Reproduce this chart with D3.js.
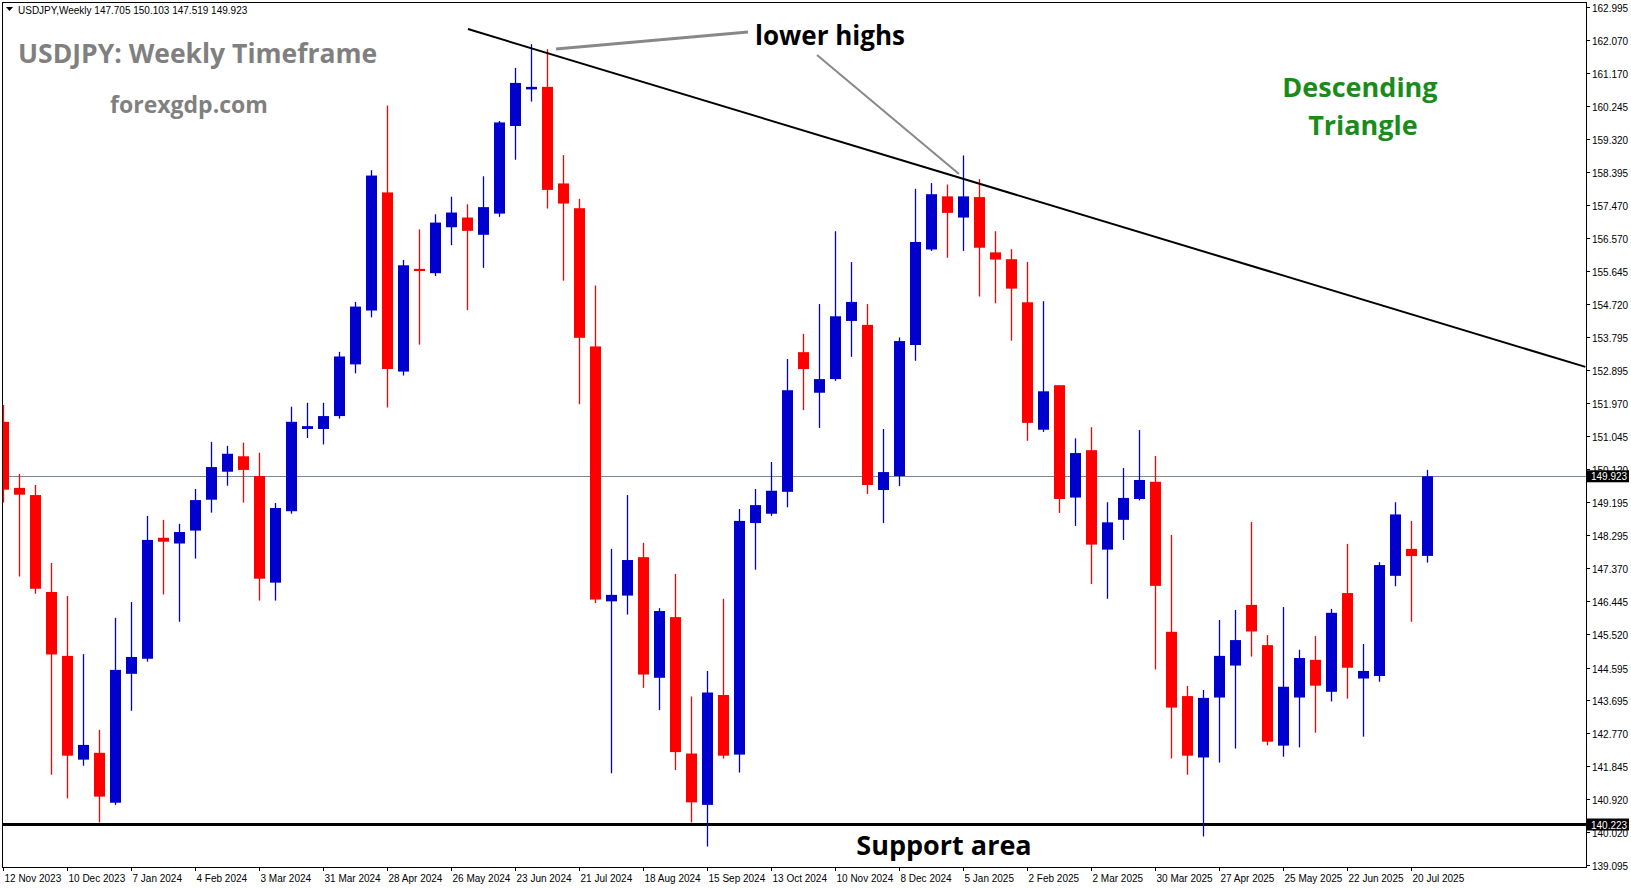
<!DOCTYPE html>
<html lang="en">
<head>
<meta charset="UTF-8">
<title>USDJPY Weekly</title>
<style>
  body { margin: 0; background: #fff; }
  svg { display: block; font-family: "Liberation Sans", Arial, sans-serif; }
</style>
<script src="https://d3js.org/d3.v7.min.js"></script>
</head>
<body>
<svg id="chart" width="1631" height="888"></svg>
<script>
// weekly candles, starting 12 Nov 2023
const opens  = [151.44,149.60,149.40,146.70,144.92,142.03,142.22,140.83,144.42,144.84,148.21,148.05,148.41,149.27,150.05,150.48,149.93,146.96,148.95,151.24,151.24,151.60,153.04,154.54,157.83,152.84,155.70,155.58,156.86,157.13,156.65,157.24,159.68,160.70,160.77,158.08,157.39,153.54,146.44,146.60,147.67,144.31,146.00,142.20,140.77,143.83,142.17,148.62,148.88,149.49,153.38,152.25,152.63,154.25,154.14,149.54,149.93,153.58,156.24,157.72,157.13,157.70,156.16,155.97,154.77,151.22,152.46,149.33,150.65,147.88,148.71,149.29,149.77,145.59,143.80,142.09,143.76,144.65,146.34,145.22,142.42,143.76,144.81,143.92,146.67,144.29,144.36,147.15,147.90,147.705];
const highs  = [151.91,149.99,149.68,147.51,146.59,144.97,142.86,145.98,146.42,148.82,148.71,148.60,149.57,150.88,150.77,150.86,150.58,149.18,151.86,151.97,151.97,153.39,154.78,158.45,160.25,155.95,156.80,157.22,157.71,157.50,158.28,159.82,161.30,161.96,161.82,158.87,157.65,155.24,147.90,149.40,148.07,146.25,147.20,143.79,144.50,146.51,149.01,149.57,150.32,153.19,153.89,154.72,156.75,155.89,154.72,151.24,153.79,157.93,158.09,158.05,158.86,158.20,156.75,156.25,155.89,154.80,152.46,150.98,151.29,149.20,150.15,151.21,150.49,148.29,144.08,143.97,145.92,146.20,148.65,145.50,146.28,145.09,145.47,146.23,148.04,145.25,147.53,149.20,148.68,150.103];
const lows   = [149.19,147.13,146.65,141.61,140.95,141.86,140.28,140.77,143.39,144.76,146.63,145.87,147.63,148.91,149.66,149.19,146.46,146.46,148.88,150.99,150.81,151.53,152.79,154.35,151.84,152.73,153.59,155.50,156.36,154.55,155.73,157.15,158.74,160.36,157.38,155.37,151.93,146.39,141.65,146.07,144.03,143.41,141.74,140.28,139.61,142.06,141.67,147.32,148.82,149.06,151.77,151.27,152.58,153.25,149.43,148.62,149.65,153.14,156.20,156.01,156.20,154.93,154.74,153.70,150.91,151.16,148.90,148.54,146.92,146.51,148.15,149.25,144.54,142.06,141.61,139.89,141.95,142.34,144.90,142.43,142.11,142.37,142.78,143.65,143.73,142.67,144.20,146.86,145.87,147.519];
const closes = [149.55,149.41,146.79,144.96,142.14,142.44,141.00,144.53,144.89,148.15,148.10,148.37,149.26,150.18,150.55,150.10,147.07,149.04,151.44,151.32,151.60,153.26,154.65,158.30,152.91,155.80,155.64,156.99,157.27,156.76,157.42,159.78,160.88,160.77,157.90,157.52,153.78,146.49,146.62,147.59,144.40,146.17,142.24,140.84,143.90,142.14,148.68,149.12,149.52,152.32,152.91,152.63,154.38,154.78,149.68,150.04,153.69,156.45,157.78,157.26,157.72,156.29,155.96,155.15,151.41,152.29,149.29,150.57,148.02,148.64,149.32,149.82,146.87,143.48,142.14,143.75,144.92,145.36,145.60,142.53,144.06,144.86,144.09,146.12,144.59,144.50,147.45,148.86,147.70,149.923];

const dateLabels = ["12 Nov 2023","10 Dec 2023","7 Jan 2024","4 Feb 2024","3 Mar 2024","31 Mar 2024","28 Apr 2024","26 May 2024","23 Jun 2024","21 Jul 2024","18 Aug 2024","15 Sep 2024","13 Oct 2024","10 Nov 2024","8 Dec 2024","5 Jan 2025","2 Feb 2025","2 Mar 2025","30 Mar 2025","27 Apr 2025","25 May 2025","22 Jun 2025","20 Jul 2025"];
const priceTicks = [162.995,162.070,161.170,160.245,159.320,158.395,157.470,156.570,155.645,154.720,153.795,152.895,151.970,151.045,150.120,149.195,148.295,147.370,146.445,145.520,144.595,143.695,142.770,141.845,140.920,140.020,139.095];

const lastPrice = 149.923;
const supportPrice = 140.223;
// trendline through the two highs, as [week index, price]
const trendPts = [[29.06, 162.38], [98.9, 152.97]];

const candles = opens.map((o, i) => ({ i, o, h: highs[i], l: lows[i], c: closes[i] }));

const svg = d3.select("#chart");
const pLeft = 2, pRight = 1586, pTop = 2, pBottom = 867;

const x = d3.scaleLinear().domain([0, 89]).range([3, 1427]);
const y = d3.scaleLinear().domain([139.095, 162.995]).range([865, 7]);

const plot = svg.append("g");
plot.append("defs").append("clipPath").attr("id", "clip")
  .append("rect").attr("x", pLeft).attr("y", pTop).attr("width", pRight - pLeft).attr("height", pBottom - pTop);
const inner = plot.append("g").attr("clip-path", "url(#clip)");

// last price line
inner.append("line")
  .attr("x1", pLeft).attr("x2", pRight)
  .attr("y1", Math.round(y(lastPrice)) + 0.5).attr("y2", Math.round(y(lastPrice)) + 0.5)
  .attr("stroke", "#778899").attr("stroke-width", 1);

// support line
inner.append("line")
  .attr("x1", pLeft).attr("x2", pRight)
  .attr("y1", y(supportPrice)).attr("y2", y(supportPrice))
  .attr("stroke", "#000").attr("stroke-width", 3);

// candles
const col = d => d.c >= d.o ? "#0000CD" : "#FF0000";
const g = inner.selectAll("g.c").data(candles).enter().append("g").attr("class", "c");
g.append("line")
  .attr("x1", d => Math.round(x(d.i)) + 0.5).attr("x2", d => Math.round(x(d.i)) + 0.5)
  .attr("y1", d => y(d.h)).attr("y2", d => y(d.l))
  .attr("stroke", col).attr("stroke-width", 1.3);
g.append("rect")
  .attr("x", d => Math.round(x(d.i)) - 5)
  .attr("width", 11)
  .attr("y", d => y(Math.max(d.o, d.c)))
  .attr("height", d => Math.max(1.5, Math.abs(y(d.o) - y(d.c))))
  .attr("fill", col);

// descending trendline
inner.append("line")
  .attr("x1", x(trendPts[0][0])).attr("y1", y(trendPts[0][1]))
  .attr("x2", x(trendPts[1][0])).attr("y2", y(trendPts[1][1]))
  .attr("stroke", "#000").attr("stroke-width", 2);

// annotation pointers
inner.append("line").attr("x1", 556).attr("y1", 49).attr("x2", 748).attr("y2", 32)
  .attr("stroke", "#888").attr("stroke-width", 3);
inner.append("line").attr("x1", 817).attr("y1", 55).attr("x2", 959).attr("y2", 174)
  .attr("stroke", "#888").attr("stroke-width", 2);

// frame
plot.append("rect").attr("x", pLeft + 0.5).attr("y", pTop + 0.5)
  .attr("width", pRight - pLeft).attr("height", pBottom - pTop)
  .attr("fill", "none").attr("stroke", "#000");

// price axis
const ax = svg.append("g").attr("font-size", 10);
priceTicks.forEach(p => {
  const yy = Math.round(y(p)) + 0.5;
  ax.append("line").attr("x1", pRight).attr("x2", pRight + 4).attr("y1", yy).attr("y2", yy).attr("stroke", "#000");
  ax.append("text").attr("x", pRight + 6).attr("y", yy + 4).text(p.toFixed(3));
});
[lastPrice, supportPrice].forEach(p => {
  const yy = y(p);
  ax.append("rect").attr("x", pRight + 1).attr("y", yy - 6).attr("width", 42).attr("height", 12).attr("fill", "#000");
  ax.append("text").attr("x", pRight + 5).attr("y", yy + 4).attr("fill", "#fff").text(p.toFixed(3));
});

// time axis
dateLabels.forEach((t, k) => {
  const xx = Math.round(x(k * 4)) + 0.5;
  ax.append("line").attr("x1", xx).attr("x2", xx).attr("y1", pBottom).attr("y2", pBottom + 4).attr("stroke", "#000");
  ax.append("text").attr("x", xx + 1).attr("y", pBottom + 15).text(t);
});

// header
svg.append("path").attr("d", "M6,7 L13,7 L9.5,11 Z").attr("fill", "#000");
svg.append("text").attr("x", 18).attr("y", 14).attr("font-size", 10).text("USDJPY,Weekly  147.705 150.103 147.519 149.923");

// titles and annotations
const bold = (txt, xx, yy, size, fill, anchor) =>
  svg.append("text").attr("x", xx).attr("y", yy).attr("font-size", size)
    .attr("font-family", "'Open Sans', 'DejaVu Sans', sans-serif").attr("font-weight", "bold")
    .attr("fill", fill).attr("text-anchor", anchor || "start").text(txt);

bold("USDJPY: Weekly Timeframe", 18, 63, 26.5, "#808080");
bold("forexgdp.com", 189, 113, 23, "#808080", "middle");
bold("lower highs", 755, 45, 26, "#000");
bold("Descending", 1360, 97, 27, "#1a8c1a", "middle");
bold("Triangle", 1363, 135, 27, "#1a8c1a", "middle");
bold("Support area", 944, 855, 27, "#000", "middle");
</script>
</body>
</html>
